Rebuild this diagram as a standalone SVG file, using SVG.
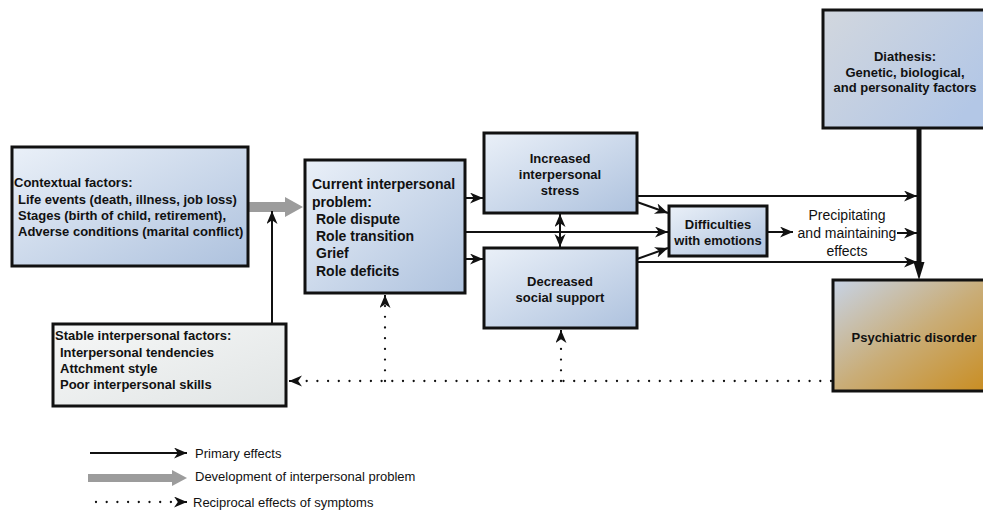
<svg xmlns="http://www.w3.org/2000/svg" width="983" height="511" viewBox="0 0 983 511">
<defs>
<linearGradient id="gBlue" x1="0" y1="0" x2="1" y2="1">
<stop offset="0" stop-color="#eaf0f8"/>
<stop offset="1" stop-color="#aec2de"/>
</linearGradient>
<linearGradient id="gGray" x1="0" y1="0" x2="1" y2="1">
<stop offset="0" stop-color="#f6f7f7"/>
<stop offset="1" stop-color="#e1e5e5"/>
</linearGradient>
<linearGradient id="gDia" x1="0" y1="0" x2="1" y2="0.6">
<stop offset="0" stop-color="#d2d7de"/>
<stop offset="1" stop-color="#b3c7e6"/>
</linearGradient>
<linearGradient id="gPsy" x1="0" y1="0" x2="1" y2="1">
<stop offset="0" stop-color="#c7d3e6"/>
<stop offset="0.5" stop-color="#c9ad78"/>
<stop offset="1" stop-color="#c98c1e"/>
</linearGradient>
<marker id="ah" markerUnits="userSpaceOnUse" markerWidth="15" markerHeight="13" refX="13" refY="5.5" orient="auto-start-reverse" viewBox="0 0 15 13">
<path d="M0,0 L13,5.5 L0,11 L3.8,5.5 Z" fill="#111"/>
</marker>
</defs>
<style>
.box{stroke:#111;stroke-width:3}
.t{font-family:"Liberation Sans",Arial,sans-serif;font-size:13px;font-weight:bold;fill:#111}
.t14{font-size:14px}
.r{font-family:"Liberation Sans",Arial,sans-serif;font-size:13px;fill:#111}
.p{font-family:"Liberation Sans",Arial,sans-serif;font-size:14px;fill:#111}
.c{text-anchor:middle}
.ln{stroke:#111;stroke-width:2;fill:none}
.dot{stroke:#111;stroke-width:2.3;fill:none;stroke-dasharray:0 10.7;stroke-linecap:round}
.gr{fill:#9c9c9c}
</style>

<g id="connectors">
<!-- gray development arrow -->
<polygon class="gr" points="248,202 285,202 285,197 303,207 285,217 285,212 248,212"/>
<!-- stable to gray arrow -->
<line class="ln" x1="272" y1="324" x2="272" y2="211" marker-end="url(#ah)"/>
<!-- current to increased/decreased -->
<line class="ln" x1="465" y1="198" x2="483" y2="198" marker-end="url(#ah)"/>
<line class="ln" x1="465" y1="259" x2="483" y2="259" marker-end="url(#ah)"/>
<!-- current to difficulties -->
<line class="ln" x1="465" y1="232" x2="668" y2="232" marker-end="url(#ah)"/>
<!-- double arrow -->
<line class="ln" x1="560" y1="214" x2="560" y2="247" marker-start="url(#ah)" marker-end="url(#ah)"/>
<!-- to difficulties diagonals -->
<line class="ln" x1="637" y1="202" x2="668" y2="213" marker-end="url(#ah)"/>
<line class="ln" x1="637" y1="259" x2="668" y2="248" marker-end="url(#ah)"/>
<!-- to bar -->
<line class="ln" x1="637" y1="196" x2="917" y2="196" marker-end="url(#ah)"/>
<line class="ln" x1="637" y1="262" x2="917" y2="262" marker-end="url(#ah)"/>
<line class="ln" x1="768" y1="232" x2="793" y2="232" marker-end="url(#ah)"/>
<line class="ln" x1="897" y1="233" x2="917" y2="233" marker-end="url(#ah)"/>
<!-- diathesis thick bar -->
<line x1="919" y1="128" x2="919" y2="266" stroke="#111" stroke-width="5"/>
<polygon points="913.5,262 924.5,262 919,280" fill="#111"/>
<!-- dotted reciprocal -->
<line class="dot" x1="831" y1="381" x2="296" y2="381"/>
<line class="ln" x1="296" y1="381" x2="289" y2="381" stroke-width="0" marker-end="url(#ah)"/>
<line class="dot" x1="385" y1="381" x2="385" y2="302"/>
<line class="ln" x1="385" y1="302" x2="385" y2="295" stroke-width="0" marker-end="url(#ah)"/>
<line class="dot" x1="561" y1="381" x2="561" y2="338"/>
<line class="ln" x1="561" y1="338" x2="561" y2="330" stroke-width="0" marker-end="url(#ah)"/>
</g>

<g id="contextual">
<rect class="box" x="12" y="147" width="236" height="119" fill="url(#gBlue)"/>
<text class="t" x="14" y="187">Contextual factors:</text>
<text class="t" x="18" y="204">Life events (death, illness, job loss)</text>
<text class="t" x="18" y="220">Stages (birth of child, retirement),</text>
<text class="t" x="18" y="236">Adverse conditions (marital conflict)</text>
</g>

<g id="current">
<rect class="box" x="305" y="160" width="160" height="133" fill="url(#gBlue)"/>
<text class="t t14" x="312" y="189">Current interpersonal</text>
<text class="t t14" x="312" y="207">problem:</text>
<text class="t t14" x="316" y="224">Role dispute</text>
<text class="t t14" x="316" y="241">Role transition</text>
<text class="t t14" x="316" y="258">Grief</text>
<text class="t t14" x="316" y="276">Role deficits</text>
</g>

<g id="stress">
<rect class="box" x="484" y="133" width="153" height="80" fill="url(#gBlue)"/>
<text class="t c" x="560" y="163">Increased</text>
<text class="t c" x="560" y="179">interpersonal</text>
<text class="t c" x="560" y="195">stress</text>
</g>

<g id="support">
<rect class="box" x="484" y="248" width="153" height="80" fill="url(#gBlue)"/>
<text class="t c" x="560" y="286">Decreased</text>
<text class="t c" x="560" y="302">social support</text>
</g>

<g id="difficulties">
<rect class="box" x="669" y="206" width="98" height="50" fill="url(#gBlue)"/>
<text class="t c" x="718" y="229">Difficulties</text>
<text class="t c" x="718" y="245">with emotions</text>
</g>

<g id="precipitating">
<text class="p c" x="847" y="220">Precipitating</text>
<text class="p c" x="847" y="238">and maintaining</text>
<text class="p c" x="847" y="256">effects</text>
</g>

<g id="diathesis">
<rect class="box" x="823" y="10" width="170" height="118" fill="url(#gDia)"/>
<text class="t c" x="905" y="61">Diathesis:</text>
<text class="t c" x="905" y="77">Genetic, biological,</text>
<text class="t c" x="905" y="92">and personality factors</text>
</g>

<g id="psychiatric">
<rect class="box" x="833" y="280" width="160" height="111" fill="url(#gPsy)"/>
<text class="t c" x="914" y="342">Psychiatric disorder</text>
</g>

<g id="stable">
<rect class="box" x="53" y="324" width="233" height="82" fill="url(#gGray)"/>
<text class="t" x="55" y="340">Stable interpersonal factors:</text>
<text class="t" x="60" y="357">Interpersonal tendencies</text>
<text class="t" x="60" y="373">Attchment style</text>
<text class="t" x="60" y="389">Poor interpersonal skills</text>
</g>

<g id="legend">
<line class="ln" x1="90" y1="453" x2="187" y2="453" marker-end="url(#ah)"/>
<text class="r" x="195" y="458">Primary effects</text>
<polygon class="gr" points="88,474 172,474 172,470 187,478 172,486 172,482 88,482"/>
<text class="r" x="195" y="481">Development of interpersonal problem</text>
<line class="dot" x1="96" y1="502" x2="176" y2="502"/>
<line class="ln" x1="178" y1="502" x2="187" y2="502" stroke-width="0" marker-end="url(#ah)"/>
<text class="r" x="193" y="507">Reciprocal effects of symptoms</text>
</g>
</svg>
